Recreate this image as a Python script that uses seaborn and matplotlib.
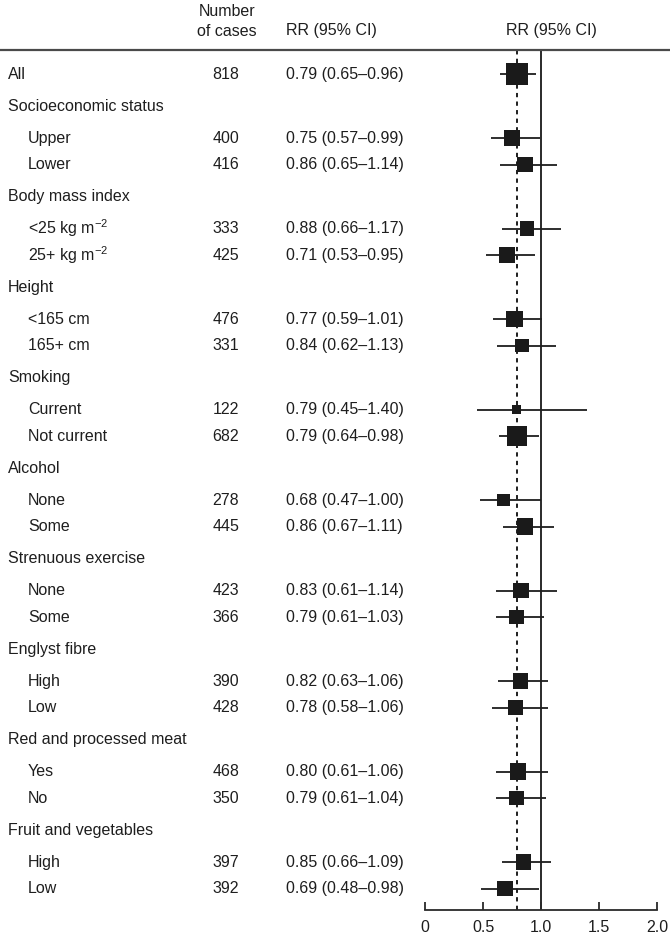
import matplotlib
matplotlib.use("Agg")
import matplotlib.pyplot as plt
import matplotlib.transforms as mtransforms
from matplotlib.lines import Line2D
import seaborn as sns
import pandas as pd

# ---- data ----
groups = ["Socioeconomic status", "Body mass index", "Height", "Smoking", "Alcohol",
          "Strenuous exercise", "Englyst fibre", "Red and processed meat",
          "Fruit and vegetables"]
sublabels = [["Upper", "Lower"],
             [r"<25 kg m$^{-2}$", r"25+ kg m$^{-2}$"],
             ["<165 cm", "165+ cm"],
             ["Current", "Not current"],
             ["None", "Some"],
             ["None", "Some"],
             ["High", "Low"],
             ["Yes", "No"],
             ["High", "Low"]]
all_cases, all_rr, all_lo, all_hi = 818, 0.79, 0.65, 0.96
cases = [400, 416, 333, 425, 476, 331, 122, 682, 278, 445,
         423, 366, 390, 428, 468, 350, 397, 392]
rr = [0.75, 0.86, 0.88, 0.71, 0.77, 0.84, 0.79, 0.79, 0.68, 0.86,
      0.83, 0.79, 0.82, 0.78, 0.80, 0.79, 0.85, 0.69]
lo = [0.57, 0.65, 0.66, 0.53, 0.59, 0.62, 0.45, 0.64, 0.47, 0.67,
      0.61, 0.61, 0.63, 0.58, 0.61, 0.61, 0.66, 0.48]
hi = [0.99, 1.14, 1.17, 0.95, 1.01, 1.13, 1.40, 0.98, 1.00, 1.11,
      1.14, 1.03, 1.06, 1.06, 1.06, 1.04, 1.09, 0.98]
xticks = [0, 0.5, 1.0, 1.5, 2.0]

sns.set_style("white")
plt.rcParams["font.family"] = ["Liberation Sans", "DejaVu Sans"]
plt.rcParams["mathtext.fontset"] = "custom"
plt.rcParams["mathtext.rm"] = "Liberation Sans"
plt.rcParams["mathtext.it"] = "Liberation Sans"
plt.rcParams["mathtext.default"] = "regular"

W, H = 670, 934
fig = plt.figure(figsize=(W / 100, H / 100), dpi=100)
top_px, axis_px = 50, 910
ax = fig.add_axes([425 / W, 1 - axis_px / H, 232 / W, (axis_px - top_px) / H])

# row layout (vertical positions in pixel-like units)
rows = []
y = 74
rows.append(dict(kind="all", label="All", y=y, n=all_cases, rr=all_rr, lo=all_lo, hi=all_hi))
k = 0
for g, subs in zip(groups, sublabels):
    y += 32
    rows.append(dict(kind="head", label=g, y=y))
    for j, s in enumerate(subs):
        y += 32 if j == 0 else 26.5
        rows.append(dict(kind="sub", label=s, y=y, n=cases[k], rr=rr[k], lo=lo[k], hi=hi[k]))
        k += 1

df = pd.DataFrame([r for r in rows if r["kind"] != "head"])

txt = "#1e1e1e"
fs = 11.5

# reference lines
ax.axvline(1.0, color="#2a2a2a", lw=1.4, zorder=1)
ax.axvline(all_rr, color="#1e1e1e", lw=1.4, ls=(0, (2.2, 2.2)), zorder=1)

# confidence intervals
ax.hlines(df["y"], df["lo"], df["hi"], color="#1e1e1e", lw=1.3, zorder=2)

# squares, area proportional to number of cases
k_area = (15.8 ** 2) / 818
sns.scatterplot(data=df, x="rr", y="y", size="n", marker="s", color="#1a1a1a",
                sizes=(k_area * df["n"].min(), k_area * df["n"].max()),
                edgecolor="none", legend=False, ax=ax, zorder=3)

ax.set_xlim(0, 2.0)
ax.set_ylim(axis_px, top_px)
ax.set_xlabel("")
ax.set_ylabel("")
ax.set_yticks([])
ax.set_xticks(xticks)
ax.set_xticklabels(["0", "0.5", "1.0", "1.5", "2.0"])
for s in ["top", "left", "right"]:
    ax.spines[s].set_visible(False)
ax.spines["bottom"].set_color("#2a2a2a")
ax.spines["bottom"].set_linewidth(1.3)
ax.tick_params(axis="x", direction="in", length=6, width=1.3, color="#2a2a2a",
               labelsize=fs, labelcolor=txt, pad=7, bottom=True)

# table text, x in figure coords, y in row units
tr = mtransforms.blended_transform_factory(fig.transFigure, ax.transData)
for r in rows:
    yy = r["y"]
    if r["kind"] == "head":
        ax.text(8 / W, yy, r["label"], transform=tr, ha="left", va="center", fontsize=fs, color=txt)
        continue
    xl = 8 / W if r["kind"] == "all" else 28 / W
    ax.text(xl, yy, r["label"], transform=tr, ha="left", va="center", fontsize=fs, color=txt)
    ax.text(226 / W, yy, f"{r['n']}", transform=tr, ha="center", va="center", fontsize=fs, color=txt)
    ax.text(286 / W, yy, f"{r['rr']:.2f} ({r['lo']:.2f}\u2013{r['hi']:.2f})", transform=tr,
            ha="left", va="center", fontsize=fs, color=txt)

# column headers
fig.text(227 / W, 1 - 12 / H, "Number", ha="center", va="center", fontsize=fs, color=txt)
fig.text(227 / W, 1 - 31 / H, "of cases", ha="center", va="center", fontsize=fs, color=txt)
fig.text(331 / W, 1 - 31 / H, "RR (95% CI)", ha="center", va="center", fontsize=fs, color=txt)
fig.text(551 / W, 1 - 31 / H, "RR (95% CI)", ha="center", va="center", fontsize=fs, color=txt)

# header rule across the full width
fig.add_artist(Line2D([0, 1], [1 - top_px / H] * 2, transform=fig.transFigure,
                      color="#4a4a4a", lw=1.6))

fig.savefig("out.png", dpi=100)
